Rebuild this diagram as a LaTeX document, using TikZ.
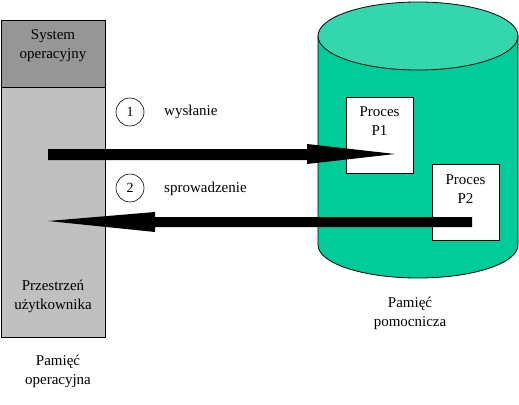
\documentclass[tikz,border=0pt]{standalone}
\usepackage{fontspec}
\setmainfont{Liberation Serif}
\definecolor{osgray}{HTML}{969696}
\definecolor{usrgray}{HTML}{C0C0C0}
\definecolor{cylbody}{HTML}{00CC99}
\definecolor{cyltop}{HTML}{33D6AD}
\begin{document}
\begin{tikzpicture}[x=1pt,y=-1pt,
  txt/.style={font=\fontsize{15}{19}\selectfont, align=center, inner sep=0pt},
  lbl/.style={font=\fontsize{15}{19}\selectfont, anchor=west, inner sep=0pt},
  procbox/.style={draw=black, fill=white, line width=0.8pt},
  numcirc/.style={draw=black, circle, minimum size=28pt, inner sep=0pt, line width=0.6pt, font=\fontsize{14}{16}\selectfont},
  fatarrow/.style={fill=black, draw=none}]
\useasboundingbox (0,0) rectangle (519,404);
% left memory column
\draw[fill=osgray, line width=0.8pt] (1,20) rectangle (105,87);
\draw[fill=usrgray, line width=0.8pt] (1,87) rectangle (105,337);
\node[txt] (os) at (53,46) {System\\operacyjny};
\node[txt] (usr) at (53,296) {Przestrze\'n\\u\.zytkownika};
\node[txt] (opmem) at (58,371) {Pamięć\\operacyjna};
% cylinder
\draw[fill=cylbody, line width=0.8pt] (318,36) -- (318,245) arc[start angle=180, end angle=360, x radius=100, y radius=-33] -- (518,36) -- cycle;
\draw[fill=cyltop, line width=0.8pt] (418,36) ellipse[x radius=100, y radius=34];
\node[txt] (auxmem) at (410,313) {Pamięć\\pomocnicza};
% process boxes
\draw[procbox] (346,97) rectangle (413,173);
\node[txt] (p1) at (379.5,121.5) {Proces\\P1};
\draw[procbox] (432,164) rectangle (499,240);
\node[txt] (p2) at (465.5,189) {Proces\\P2};
% arrow endpoints
\coordinate (a1s) at (48,154.5);
\coordinate (a1b) at (307,154.5);
\coordinate (a1t) at (395,154);
\coordinate (a2s) at (472,222);
\coordinate (a2b) at (155,222);
\coordinate (a2t) at (48,221);
% arrow 1 (send)
\fill[fatarrow] ([yshift=-5.5pt]a1s) -- ([yshift=-5.5pt]a1b) -- ([yshift=-9.5pt]a1b) -- (a1t) -- ([yshift=10.5pt]a1b) -- ([yshift=5.5pt]a1b) -- ([yshift=5.5pt]a1s) -- cycle;
% arrow 2 (fetch)
\fill[fatarrow] ([yshift=-5pt]a2s) -- ([yshift=-5pt]a2b) -- ([yshift=-10pt]a2b) -- (a2t) -- ([yshift=10pt]a2b) -- ([yshift=5pt]a2b) -- ([yshift=5pt]a2s) -- cycle;
% step labels
\node[numcirc] (c1) at (130,112) {1};
\node[lbl] (l1) at (164,112) {wysłanie};
\node[numcirc] (c2) at (130,188) {2};
\node[lbl] (l2) at (164,189) {sprowadzenie};
\end{tikzpicture}
\end{document}
